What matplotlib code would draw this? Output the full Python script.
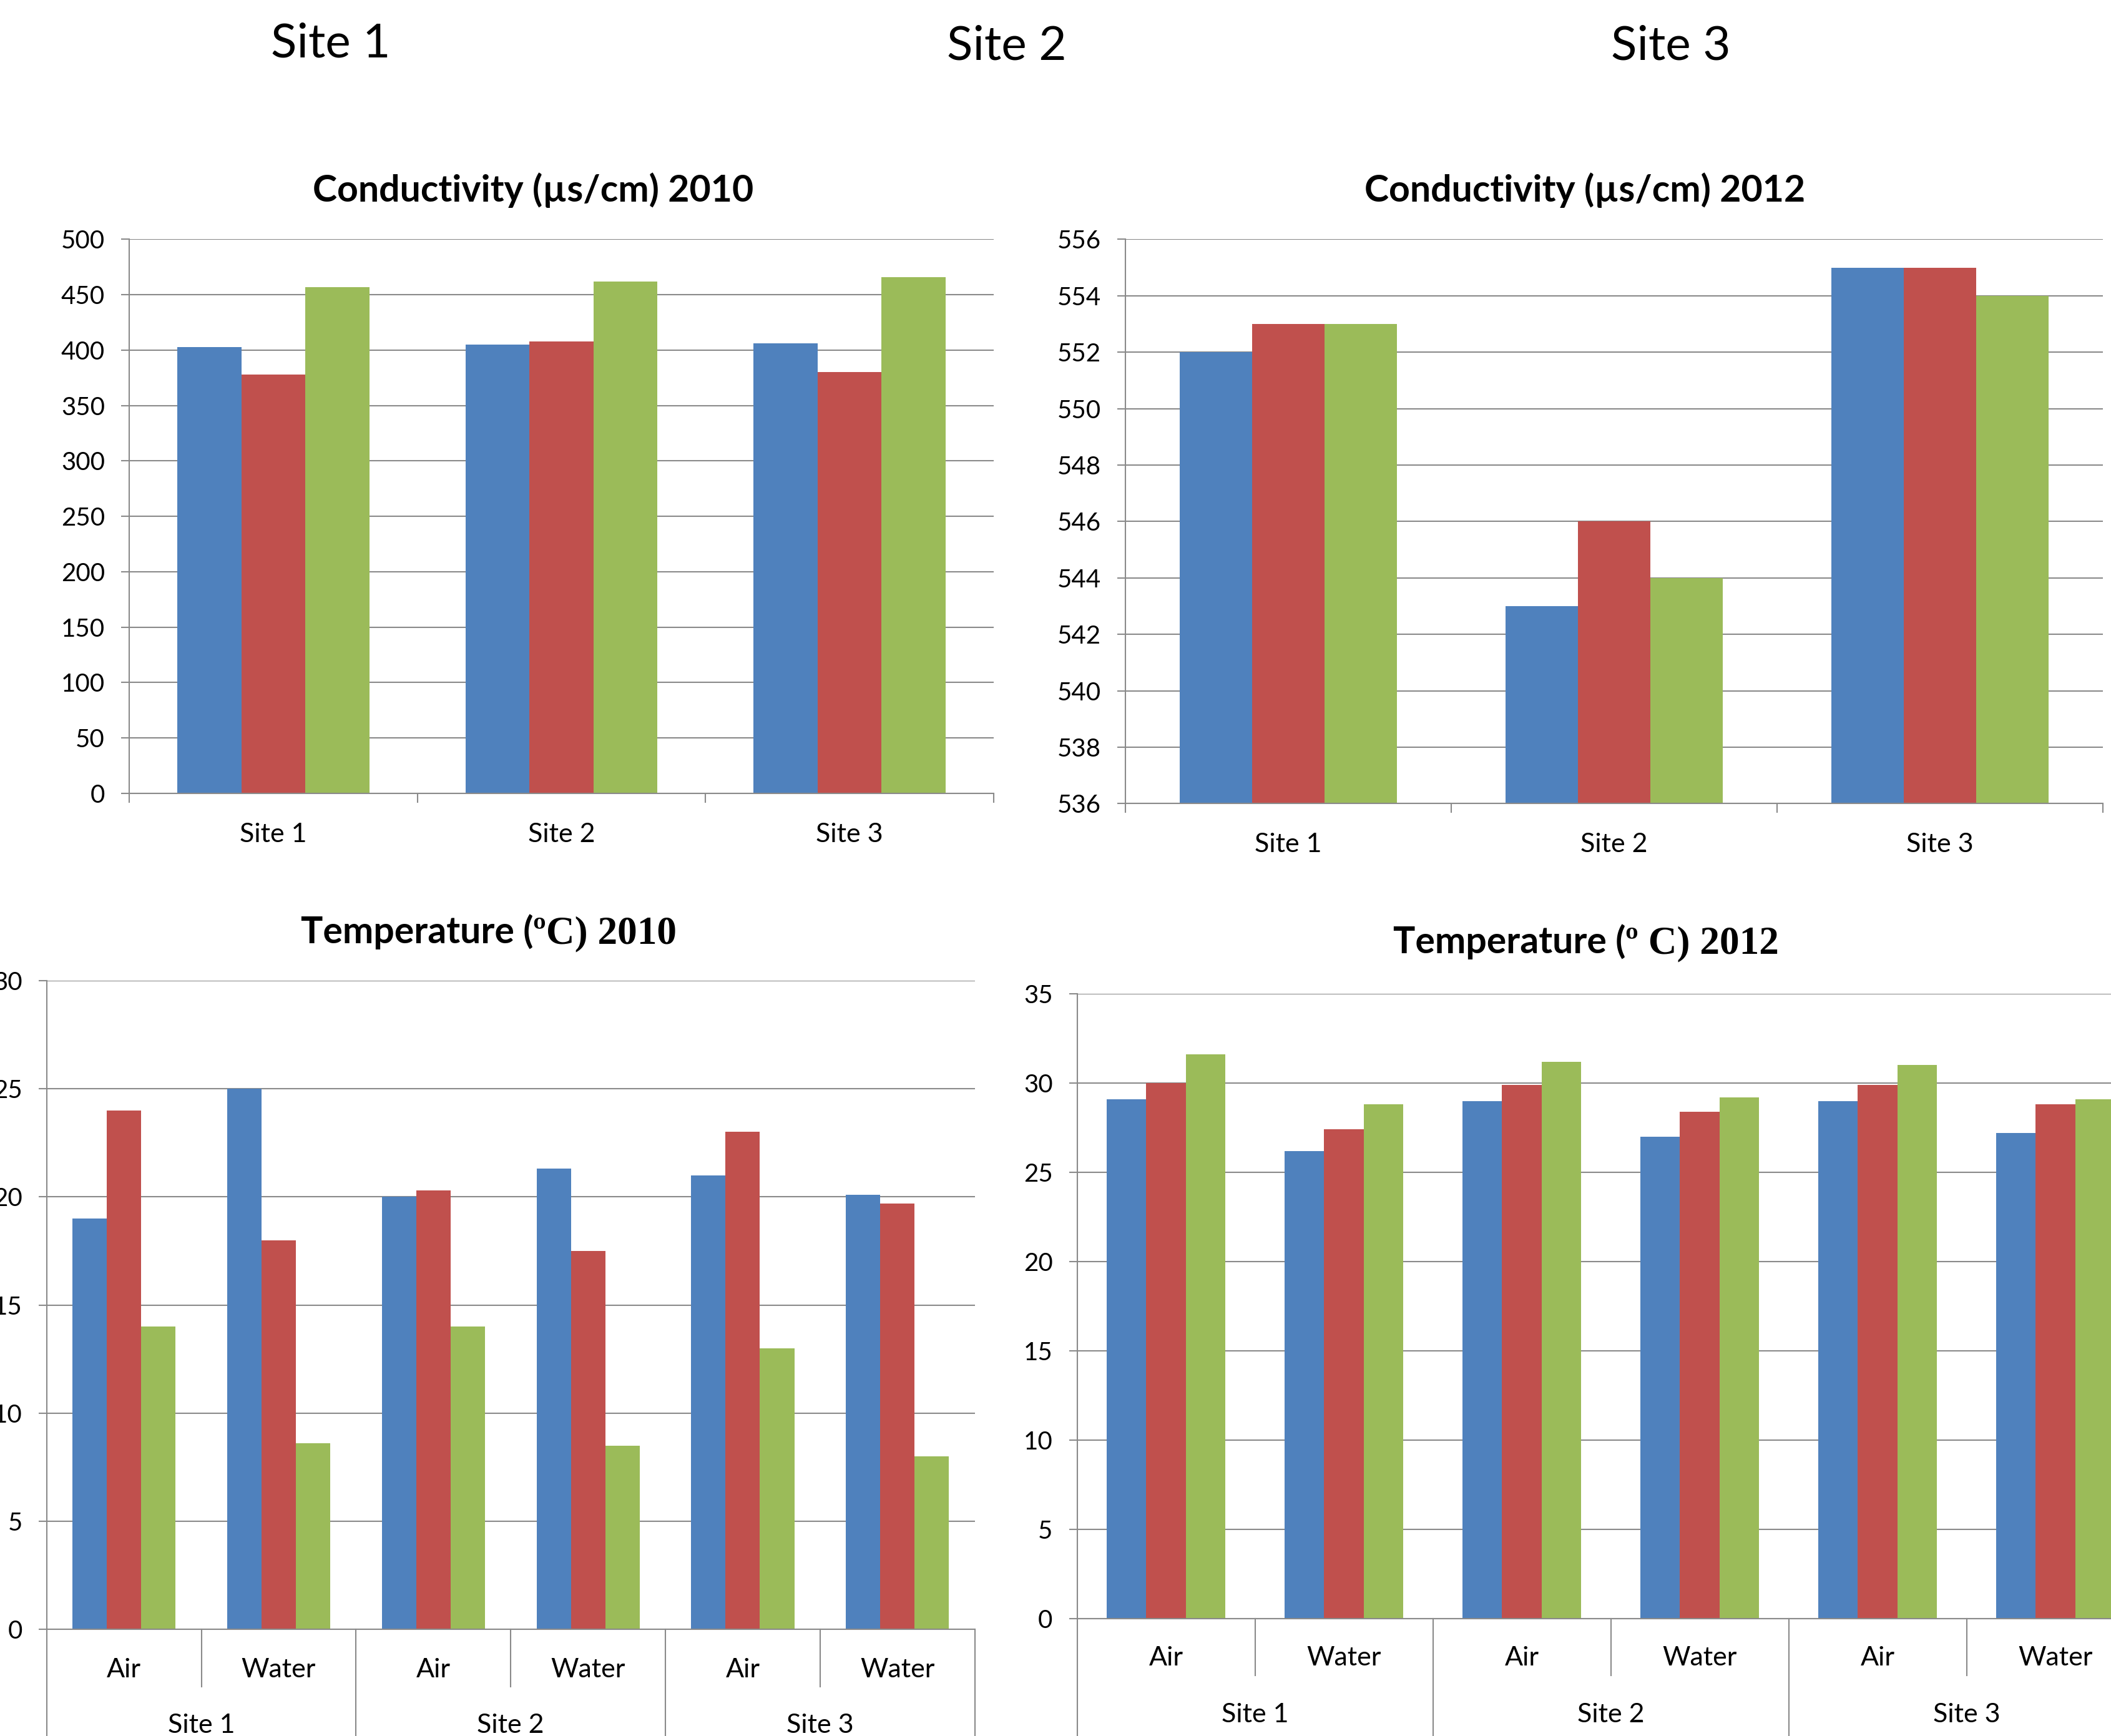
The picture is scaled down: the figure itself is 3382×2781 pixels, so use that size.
import matplotlib
matplotlib.use("Agg")
import matplotlib.pyplot as plt
from matplotlib import transforms
from matplotlib.lines import Line2D
import numpy as np

# ---------------------------------------------------------------- data
sites = ["Site 1", "Site 2", "Site 3"]
media = ["Air", "Water"]

# Conductivity (µs/cm), one value per site
cond2010_blue = [403, 405, 406]
cond2010_red = [378, 408, 380]
cond2010_green = [457, 462, 466]

cond2012_blue = [552, 543, 555]
cond2012_red = [553, 546, 555]
cond2012_green = [553, 544, 554]

# Temperature (ºC), order: Site1 Air, Site1 Water, Site2 Air, Site2 Water, Site3 Air, Site3 Water
temp2010_blue = [19.0, 25.0, 20.0, 21.3, 21.0, 20.1]
temp2010_red = [24.0, 18.0, 20.3, 17.5, 23.0, 19.7]
temp2010_green = [14.0, 8.6, 14.0, 8.5, 13.0, 8.0]

temp2012_blue = [29.1, 26.2, 29.0, 27.0, 29.0, 27.2]
temp2012_red = [30.0, 27.4, 29.9, 28.4, 29.9, 28.8]
temp2012_green = [31.6, 28.8, 31.2, 29.2, 31.0, 29.1]

cond2010_ticks = list(range(0, 501, 50))
cond2012_ticks = list(range(536, 557, 2))
temp2010_ticks = list(range(0, 31, 5))
temp2012_ticks = list(range(0, 36, 5))

# ---------------------------------------------------------------- style
W, H, DPI = 3382, 2781, 100
COLORS = ["#4F81BD", "#C0504D", "#9BBB59"]
GRID = "#8A8A8A"
SANS = ["Lato", "DejaVu Sans"]
SERIF = ["Liberation Serif", "DejaVu Serif"]
plt.rcParams["font.family"] = SANS

TICK_PT = 29
CAT_PT = 31
TITLE_PT = 42.5
HEAD_PT = 55
PX = 72.0 / DPI  # points per pixel

fig = plt.figure(figsize=(W / DPI, H / DPI), dpi=DPI)
fig.patch.set_facecolor("white")


def fx(x):
    return x / W


def fy(y):
    return 1 - y / H


def rect(left, top, right, bottom):
    return [left / W, 1 - bottom / H, (right - left) / W, (bottom - top) / H]


def bar_panel(box, series, ylim, yticks):
    ax = fig.add_axes(rect(*box))
    n = len(series[0])
    w = 1 / 4.5
    x = np.arange(n)
    for k, (vals, col) in enumerate(zip(series, COLORS)):
        ax.bar(x + (k - 1) * w, vals, width=w, color=col, linewidth=0, zorder=2)
    ax.set_xlim(-0.5, n - 0.5)
    ax.set_ylim(*ylim)
    ax.set_yticks(yticks)
    ax.yaxis.grid(True, color=GRID, linewidth=1.5)
    ax.set_axisbelow(True)
    for s in ("top", "right"):
        ax.spines[s].set_visible(False)
    for s in ("left", "bottom"):
        ax.spines[s].set_color(GRID)
        ax.spines[s].set_linewidth(1.5)
    ax.tick_params(axis="y", length=13 * PX, width=1.5, color=GRID,
                   pad=26 * PX, labelsize=TICK_PT)
    ax.set_xticks(np.arange(n + 1) - 0.5)
    ax.tick_params(axis="x", labelbottom=False)
    ax.set_facecolor("none")
    return ax


def labels_at(ax, texts, centers, base_px, size):
    tr = transforms.blended_transform_factory(ax.transData, fig.transFigure)
    for c, s in zip(centers, texts):
        ax.text(c, fy(base_px), s, transform=tr, ha="center", va="baseline",
                fontsize=size, clip_on=False)


def vline(ax, x, y0_px, y1_px):
    tr = transforms.blended_transform_factory(ax.transData, fig.transFigure)
    ax.add_line(Line2D([x, x], [fy(y0_px), fy(y1_px)], transform=tr,
                       color=GRID, linewidth=1.5, clip_on=False))


def title_runs(cx, base_px, runs):
    texts = []
    for s, fam, size in runs:
        texts.append(fig.text(0, fy(base_px), s, fontsize=size, family=fam,
                              fontweight="bold", ha="left", va="baseline"))
    r = fig.canvas.get_renderer()
    widths = [t.get_window_extent(r).width for t in texts]
    x = cx - sum(widths) / 2
    for t, wd in zip(texts, widths):
        t.set_x(fx(x))
        x += wd


# ---------------------------------------------------------------- headings
for s, cx, base in zip(sites, [530, 1613, 2677], [92, 95, 95]):
    fig.text(fx(cx), fy(base), s, fontsize=HEAD_PT, ha="center", va="baseline")

# ---------------------------------------------------------------- conductivity 2010
ax1 = bar_panel((207, 383.3, 1592, 1271),
                [cond2010_blue, cond2010_red, cond2010_green], (0, 500), cond2010_ticks)
ax1.tick_params(axis="x", length=15 * PX, width=1.5, color=GRID)
labels_at(ax1, sites, np.arange(3), 1349, CAT_PT)
title_runs(854, 323, [("Conductivity (µs/cm) 2010", SANS, TITLE_PT)])

# ---------------------------------------------------------------- conductivity 2012
ax2 = bar_panel((1803, 383.3, 3369, 1287.3),
                [cond2012_blue, cond2012_red, cond2012_green], (536, 556), cond2012_ticks)
ax2.tick_params(axis="x", length=15 * PX, width=1.5, color=GRID)
labels_at(ax2, sites, np.arange(3), 1365, CAT_PT)
title_runs(2539, 323, [("Conductivity (µs/cm) 2012", SANS, TITLE_PT)])

# ---------------------------------------------------------------- temperature panels
sub_labels = [m for _ in sites for m in media]


def two_level_axis(ax, bottom_px, sub_end_px, sub_base, site_base):
    ax.tick_params(axis="x", length=0)
    n = len(sub_labels)
    for k in range(n + 1):
        end = sub_end_px if k % 2 else H + 5
        vline(ax, k - 0.5, bottom_px, end)
    labels_at(ax, sub_labels, np.arange(n), sub_base, CAT_PT)
    labels_at(ax, sites, np.arange(0.5, n, 2), site_base, CAT_PT)


ax3 = bar_panel((74.7, 1571, 1561.7, 2610),
                [temp2010_blue, temp2010_red, temp2010_green], (0, 30), temp2010_ticks)
two_level_axis(ax3, 2610, 2702, 2687, 2776)
title_runs(783, 1511, [("Temperature (", SANS, TITLE_PT),
                       ("ºC) 2010", SERIF, TITLE_PT + 3)])

ax4 = bar_panel((1725.6, 1592, 3435.6, 2593),
                [temp2012_blue, temp2012_red, temp2012_green], (0, 35), temp2012_ticks)
two_level_axis(ax4, 2593, 2684, 2668, 2759)
title_runs(2541, 1527, [("Temperature (", SANS, TITLE_PT),
                        ("º C) 2012", SERIF, TITLE_PT + 3)])

fig.savefig("out.png", dpi=DPI, facecolor="white")
